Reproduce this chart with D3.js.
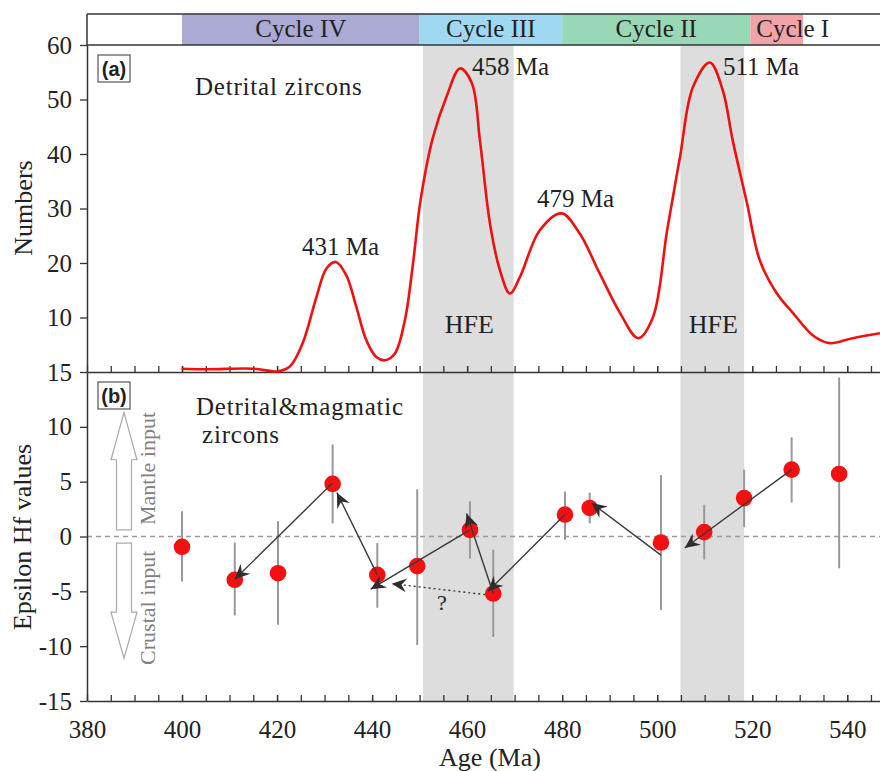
<!DOCTYPE html>
<html>
<head>
<meta charset="utf-8">
<script src="https://cdn.jsdelivr.net/npm/d3@7"></script>
<style>
  body { margin: 0; background: #fff; }
  svg text { font-family: "Liberation Serif", "DejaVu Serif", serif; fill: #222; }
  .tick text { font-size: 25px; }
</style>
</head>
<body>
<div id="chart"></div>
<script>
// Panel (a): detrital zircon age spectrum
var curveAge = [399.9, 405.2, 414.9, 418.5, 420.1, 422.7, 425.4, 428.3, 430.4, 432.4, 434.6, 436.7, 438.8, 440.9, 442.7,
  444.8, 446.9, 448.6, 450.2, 452.8, 455.7, 458.5, 461.0, 462.7, 464.8, 466.9, 469.0, 471.1, 475.3, 479.9, 483.7,
  487.9, 492.2, 496.0, 499.1, 502.1, 504.8, 507.5, 511.1, 513.8, 515.9, 518.9, 521.6, 525.2, 528.6, 532.8, 536.3,
  541.1, 546.9];
var curveCount = [0.6, 0.5, 0.6, 0.2, 0.1, 1.0, 5.3, 13.8, 19.0, 20.2, 17.7, 11.9, 5.8, 2.75, 2.15,
  3.4, 9.5, 19.8, 31.5, 43, 50.6, 55.7, 53, 42.5, 27.3, 18.7, 14.4, 17.4, 26, 29.1, 25.4,
  18.1, 10.8, 6.2, 10, 26, 39.4, 52.2, 56.8, 51.7, 42.5, 31, 20.5, 14.4, 10.8, 6.7, 5.3,
  6.2, 7.1];

var peakLabels = ["431 Ma", "458 Ma", "479 Ma", "511 Ma"];

// Panel (b): epsilon Hf values with error bars
var hfAge   = [400, 411.1, 420.2, 431.7, 441.1, 449.5, 460.6, 465.5, 480.6, 485.8, 500.8, 509.9, 518.3, 528.3, 538.3];
var hfValue = [-0.94, -3.95, -3.35, 4.8, -3.5, -2.7, 0.6, -5.2, 2.0, 2.6, -0.55, 0.4, 3.5, 6.1, 5.7];
var hfLow   = [-4.1, -7.2, -8.05, 1.2, -6.5, -9.9, -2.0, -9.15, -0.3, 1.2, -6.7, -2.1, 0.85, 3.1, -2.9];
var hfHigh  = [2.3, -0.55, 1.4, 8.4, -0.6, 4.3, 3.2, -1.2, 4.1, 4.0, 5.6, 2.9, 6.1, 9.05, 14.5];

// trend arrows [age, epsilon]
var trendFrom = [[431.5, 4.8], [441.1, -3.5], [460.6, 0.6], [465.5, -5.2], [480.6, 2.0], [500.8, -1.7], [528.3, 6.1]];
var trendTo   = [[411.1, -3.9], [432.6, 4.0], [439.7, -4.8], [459.9, 2.1], [464.4, -5.0], [486.2, 3.05], [505.8, -1.05]];
var dottedFrom = [463.8, -5.3];
var dottedTo   = [444.1, -4.3];

// cycles and HFE bands (Ma)
var cycleNames = ["Cycle IV", "Cycle III", "Cycle II", "Cycle I"];
var cycleStart = [400, 450, 480, 519.6];
var cycleEnd   = [450, 480, 519.6, 530.7];
var cycleColors = ["#aaaad4", "#9fd8f2", "#99d8b6", "#f1a3aa"];
var hfeStart = [450.7, 504.9];
var hfeEnd   = [469.8, 518.3];

var xTicks = [380, 400, 420, 440, 460, 480, 500, 520, 540];
var yTicksA = [10, 20, 30, 40, 50, 60];
var yTicksB = [-15, -10, -5, 0, 5, 10, 15];

var svgWidth = 880, svgHeight = 771;
var left = 87, right = 880;
var barTop = 14, aTop = 45, mid = 372, bottom = 701;

var svg = d3.select("#chart").append("svg")
  .attr("width", svgWidth)
  .attr("height", svgHeight);

var x = d3.scaleLinear().domain([380, 546.9]).range([left, right]);
var yA = d3.scaleLinear().domain([0, 60]).range([mid, aTop]);
var yB = d3.scaleLinear().domain([-15, 15]).range([bottom, mid]);

// arrow head
svg.append("defs").append("marker")
  .attr("id", "head")
  .attr("markerUnits", "userSpaceOnUse")
  .attr("viewBox", "-16 -8 18 16")
  .attr("markerWidth", 18)
  .attr("markerHeight", 16)
  .attr("refX", 0).attr("refY", 0)
  .attr("orient", "auto")
  .append("path")
  .attr("d", "M0,0 L-15,-7 L-10,0 L-15,7 Z")
  .attr("fill", "#2e2e2e");

// cycle bar
svg.selectAll("rect.cycle")
  .data(cycleNames)
  .enter().append("rect")
  .attr("class", "cycle")
  .attr("x", function(d, i) { return x(cycleStart[i]); })
  .attr("y", barTop)
  .attr("width", function(d, i) { return x(cycleEnd[i]) - x(cycleStart[i]); })
  .attr("height", aTop - barTop)
  .attr("fill", function(d, i) { return cycleColors[i]; });

svg.selectAll("text.cycle")
  .data(cycleNames)
  .enter().append("text")
  .attr("class", "cycle")
  .style("font-size", "25px")
  .attr("y", 37)
  .each(function(d, i) {
    var t = d3.select(this).text(d);
    var w = x(cycleEnd[i]) - x(cycleStart[i]);
    var tw = this.getComputedTextLength();
    if (tw + 10 > w) {
      t.attr("x", x(cycleStart[i]) + 6).attr("text-anchor", "start");
    } else {
      t.attr("x", (x(cycleStart[i]) + x(cycleEnd[i])) / 2).attr("text-anchor", "middle");
    }
  });

// HFE bands through both panels
svg.selectAll("rect.hfe")
  .data(hfeStart)
  .enter().append("rect")
  .attr("x", function(d) { return x(d); })
  .attr("y", aTop)
  .attr("width", function(d, i) { return x(hfeEnd[i]) - x(d); })
  .attr("height", bottom - aTop)
  .attr("fill", "#dcdddc");

svg.selectAll("text.hfe")
  .data(hfeStart)
  .enter().append("text")
  .attr("x", function(d, i) { return (x(d) + x(hfeEnd[i])) / 2 + 1; })
  .attr("y", 333)
  .attr("text-anchor", "middle")
  .style("font-size", "26px")
  .text("HFE");

// zero line
svg.append("line")
  .attr("x1", left).attr("x2", right)
  .attr("y1", yB(0)).attr("y2", yB(0))
  .attr("stroke", "#9a9a9a")
  .attr("stroke-width", 1.5)
  .attr("stroke-dasharray", "5,4");

// frame lines
var frame = svg.append("g").attr("stroke", "#333").attr("stroke-width", 1.5);
frame.append("line").attr("x1", left).attr("x2", right).attr("y1", barTop).attr("y2", barTop);
frame.append("line").attr("x1", left).attr("x2", right).attr("y1", aTop).attr("y2", aTop);
frame.append("line").attr("x1", left).attr("x2", left).attr("y1", barTop).attr("y2", aTop);

// axes
var minorTicks = d3.range(385, 547, 5);

function xAxisAt(y, labels) {
  var g = svg.append("g").attr("transform", "translate(0," + y + ")");
  g.call(d3.axisBottom(x).tickValues(minorTicks).tickSize(-6).tickSizeOuter(0).tickFormat(""));
  var g2 = svg.append("g").attr("transform", "translate(0," + y + ")");
  g2.call(d3.axisBottom(x).tickValues(xTicks).tickSize(-6).tickSizeOuter(0).tickPadding(19)
    .tickFormat(labels ? function(d) { return d; } : ""));
  g2.select(".domain").remove();
  [g, g2].forEach(function(s) {
    s.selectAll("line").attr("stroke", "#333").attr("stroke-width", 1.3);
    s.select(".domain").attr("stroke", "#333").attr("stroke-width", 1.5);
  });
}
xAxisAt(mid, false);
xAxisAt(bottom, true);

var axA = svg.append("g").attr("transform", "translate(" + left + ",0)")
  .call(d3.axisLeft(yA).tickValues(yTicksA).tickSize(7).tickSizeOuter(0).tickPadding(8));
var axB = svg.append("g").attr("transform", "translate(" + left + ",0)")
  .call(d3.axisLeft(yB).tickValues(yTicksB).tickSize(7).tickSizeOuter(0).tickPadding(8)
    .tickFormat(function(d) { return String(d); }));
[axA, axB].forEach(function(s) {
  s.selectAll("line").attr("stroke", "#333").attr("stroke-width", 1.3);
  s.select(".domain").attr("stroke", "#333").attr("stroke-width", 1.5);
});
svg.selectAll(".tick text").attr("fill", "#222")
  .style("font-family", "'Liberation Serif', serif");

// axis titles
svg.append("text")
  .attr("transform", "translate(32," + 208 + ") rotate(-90)")
  .attr("text-anchor", "middle")
  .style("font-size", "26px")
  .text("Numbers");

svg.append("text")
  .attr("transform", "translate(31," + 537 + ") rotate(-90)")
  .attr("text-anchor", "middle")
  .style("font-size", "26px")
  .text("Epsilon Hf values");

svg.append("text")
  .attr("x", 490).attr("y", 766)
  .attr("text-anchor", "middle")
  .style("font-size", "26px")
  .text("Age (Ma)");

// panel (a) curve
var line = d3.line()
  .x(function(d, i) { return x(curveAge[i]); })
  .y(function(d) { return yA(d); })
  .curve(d3.curveCatmullRom.alpha(0.5));

svg.append("path")
  .datum(curveCount)
  .attr("d", line)
  .attr("fill", "none")
  .attr("stroke", "#f01010")
  .attr("stroke-width", 2.6);

// peak labels
var peakX = [302, 472, 537, 723];
var peakY = [255, 75, 207, 75];
svg.selectAll("text.peak")
  .data(peakLabels)
  .enter().append("text")
  .attr("x", function(d, i) { return peakX[i]; })
  .attr("y", function(d, i) { return peakY[i]; })
  .style("font-size", "25px")
  .text(function(d) { return d; });

// panel labels
function panelTag(label, y0) {
  svg.append("rect")
    .attr("x", 98).attr("y", y0).attr("width", 32).attr("height", 27)
    .attr("fill", "#fff").attr("stroke", "#555").attr("stroke-width", 1.2);
  svg.append("text")
    .attr("x", 114).attr("y", y0 + 21)
    .attr("text-anchor", "middle")
    .style("font-family", "'Liberation Sans', Arial, sans-serif")
    .style("font-weight", "bold")
    .style("font-size", "20px")
    .text(label);
}
panelTag("(a)", 55);
panelTag("(b)", 382);

svg.append("text").attr("x", 195).attr("y", 95)
  .style("font-size", "25px").style("letter-spacing", "0.8px")
  .text("Detrital zircons");
svg.append("text").attr("x", 196).attr("y", 415)
  .style("font-size", "25px").style("letter-spacing", "0.8px")
  .text("Detrital&magmatic");
svg.append("text").attr("x", 202).attr("y", 443)
  .style("font-size", "25px").style("letter-spacing", "0.8px")
  .text("zircons");

// mantle / crustal hollow arrows
var cx = 124;
function blockArrow(tipE, headE, baseE) {
  var t = yB(tipE), h = yB(headE), b = yB(baseE);
  var pts = [[cx, t], [cx + 13, h], [cx + 7.5, h], [cx + 7.5, b], [cx - 7.5, b], [cx - 7.5, h], [cx - 13, h]];
  svg.append("polygon")
    .attr("points", pts.map(function(p) { return p.join(","); }).join(" "))
    .attr("fill", "#fff")
    .attr("stroke", "#aaa")
    .attr("stroke-width", 1.2);
}
blockArrow(11.3, 7.0, 0.6);
blockArrow(-11.1, -6.9, -0.6);

svg.append("text")
  .attr("transform", "translate(155," + yB(6.2) + ") rotate(-90)")
  .attr("text-anchor", "middle")
  .style("font-size", "22px")
  .style("fill", "#808080")
  .text("Mantle input");
svg.append("text")
  .attr("transform", "translate(155," + yB(-6.5) + ") rotate(-90)")
  .attr("text-anchor", "middle")
  .style("font-size", "22px")
  .style("fill", "#808080")
  .text("Crustal input");

// error bars
svg.selectAll("line.err")
  .data(hfAge)
  .enter().append("line")
  .attr("x1", function(d) { return x(d); })
  .attr("x2", function(d) { return x(d); })
  .attr("y1", function(d, i) { return yB(hfLow[i]); })
  .attr("y2", function(d, i) { return yB(hfHigh[i]); })
  .attr("stroke", "#999")
  .attr("stroke-width", 2);

// points
svg.selectAll("circle")
  .data(hfAge)
  .enter().append("circle")
  .attr("cx", function(d) { return x(d); })
  .attr("cy", function(d, i) { return yB(hfValue[i]); })
  .attr("r", 8.3)
  .attr("fill", "#f41010");

// trend arrows
svg.selectAll("line.trend")
  .data(trendFrom)
  .enter().append("line")
  .attr("x1", function(d) { return x(d[0]); })
  .attr("y1", function(d) { return yB(d[1]); })
  .attr("x2", function(d, i) { return x(trendTo[i][0]); })
  .attr("y2", function(d, i) { return yB(trendTo[i][1]); })
  .attr("stroke", "#3a3a3a")
  .attr("stroke-width", 1.4)
  .attr("marker-end", "url(#head)");

svg.append("line")
  .attr("x1", x(dottedFrom[0])).attr("y1", yB(dottedFrom[1]))
  .attr("x2", x(dottedTo[0])).attr("y2", yB(dottedTo[1]))
  .attr("stroke", "#3a3a3a")
  .attr("stroke-width", 1.4)
  .attr("stroke-dasharray", "2,3")
  .attr("marker-end", "url(#head)");

svg.append("text")
  .attr("x", 442).attr("y", 610)
  .attr("text-anchor", "middle")
  .style("font-size", "22px")
  .text("?");
</script>
</body>
</html>
